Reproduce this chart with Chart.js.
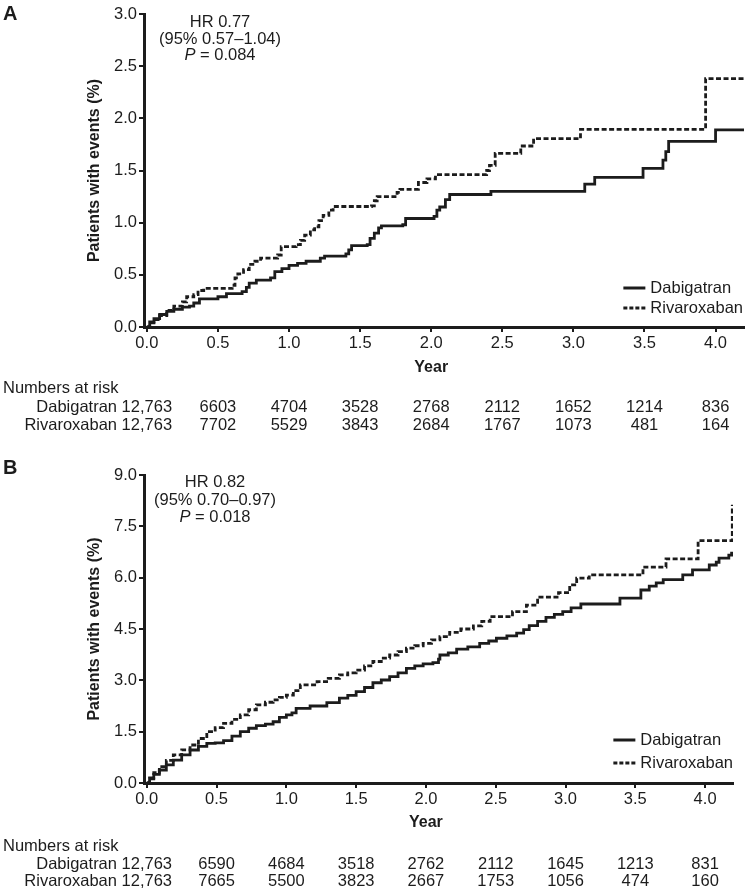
<!DOCTYPE html>
<html lang="en">
<head>
<meta charset="UTF-8">
<title>Dabigatran vs Rivaroxaban</title>
<style>
  body { margin: 0; background: #fff; }
  #wrap { position: relative; width: 748px; height: 892px; }
  canvas { position: absolute; left: 0; }
  #chartA { top: 0; }
  #chartB { top: 440px; }
</style>
</head>
<body>
<div id="wrap">
  <canvas id="chartA" width="748" height="440"></canvas>
  <canvas id="chartB" width="748" height="452"></canvas>
</div>
<script src="https://cdn.jsdelivr.net/npm/chart.js"></script>
<script>
// ---- data ----
const xTicks = [0, 0.5, 1.0, 1.5, 2.0, 2.5, 3.0, 3.5, 4.0];
const yTicksA = [0, 0.5, 1.0, 1.5, 2.0, 2.5, 3.0];
const yTicksB = [0, 1.5, 3.0, 4.5, 6.0, 7.5, 9.0];
const riskYears = [0, 0.5, 1.0, 1.5, 2.0, 2.5, 3.0, 3.5, 4.0];

// panel A: [year, % with events]
const dabA = [[0,0],[0.02,0.05],[0.05,0.08],[0.09,0.12],[0.14,0.15],[0.19,0.17],[0.25,0.19],[0.30,0.20],[0.33,0.23],[0.37,0.27],[0.50,0.29],[0.56,0.32],[0.67,0.34],[0.70,0.38],[0.72,0.42],[0.77,0.45],[0.87,0.47],[0.90,0.53],[0.95,0.56],[1.00,0.59],[1.06,0.61],[1.12,0.63],[1.22,0.66],[1.25,0.68],[1.40,0.70],[1.42,0.74],[1.44,0.78],[1.55,0.79],[1.57,0.85],[1.60,0.90],[1.63,0.95],[1.65,0.97],[1.80,0.98],[1.82,1.04],[2.02,1.06],[2.04,1.12],[2.06,1.15],[2.10,1.22],[2.13,1.27],[2.42,1.30],[3.08,1.37],[3.15,1.435],[3.49,1.52],[3.63,1.60],[3.65,1.68],[3.67,1.78],[4.00,1.89],[4.20,1.89]];
const rivA = [[0,0],[0.02,0.04],[0.05,0.07],[0.09,0.11],[0.14,0.16],[0.19,0.20],[0.25,0.24],[0.28,0.29],[0.33,0.31],[0.36,0.35],[0.40,0.37],[0.60,0.40],[0.62,0.47],[0.64,0.51],[0.68,0.55],[0.72,0.60],[0.76,0.63],[0.80,0.66],[0.92,0.69],[0.945,0.77],[1.05,0.79],[1.08,0.83],[1.11,0.88],[1.15,0.93],[1.18,0.96],[1.21,1.02],[1.24,1.07],[1.28,1.12],[1.31,1.155],[1.58,1.16],[1.60,1.21],[1.62,1.25],[1.76,1.29],[1.78,1.32],[1.91,1.385],[1.97,1.42],[2.03,1.46],[2.39,1.50],[2.41,1.55],[2.45,1.665],[2.63,1.735],[2.72,1.805],[3.05,1.895],[3.93,2.38],[4.20,2.38]];

// panel B
const dabB = [[0,0],[0.02,0.12],[0.05,0.25],[0.09,0.38],[0.14,0.53],[0.19,0.67],[0.25,0.82],[0.31,0.965],[0.37,1.07],[0.43,1.16],[0.49,1.17],[0.55,1.24],[0.61,1.37],[0.67,1.50],[0.73,1.60],[0.785,1.675],[0.85,1.72],[0.905,1.79],[0.95,1.92],[1.00,1.99],[1.04,2.05],[1.07,2.18],[1.17,2.25],[1.29,2.35],[1.38,2.48],[1.44,2.56],[1.50,2.67],[1.56,2.79],[1.62,2.93],[1.68,3.01],[1.74,3.11],[1.80,3.22],[1.86,3.35],[1.92,3.42],[1.98,3.48],[2.05,3.52],[2.09,3.62],[2.10,3.74],[2.16,3.80],[2.22,3.91],[2.30,3.98],[2.385,4.08],[2.45,4.15],[2.505,4.23],[2.58,4.30],[2.65,4.38],[2.70,4.48],[2.74,4.60],[2.80,4.72],[2.86,4.84],[2.92,4.93],[2.98,5.01],[3.04,5.12],[3.11,5.23],[3.39,5.40],[3.54,5.64],[3.60,5.75],[3.65,5.85],[3.70,5.94],[3.84,6.08],[3.91,6.23],[4.03,6.37],[4.08,6.45],[4.10,6.57],[4.17,6.66],[4.19,6.76]];
const rivB = [[0,0],[0.02,0.15],[0.05,0.30],[0.09,0.48],[0.14,0.66],[0.19,0.82],[0.25,0.97],[0.31,1.11],[0.37,1.30],[0.43,1.50],[0.49,1.62],[0.55,1.745],[0.61,1.86],[0.67,1.99],[0.73,2.14],[0.785,2.28],[0.85,2.36],[0.905,2.43],[0.95,2.50],[1.00,2.57],[1.05,2.70],[1.10,2.87],[1.22,2.96],[1.30,3.06],[1.38,3.16],[1.44,3.22],[1.50,3.30],[1.56,3.42],[1.62,3.55],[1.68,3.65],[1.74,3.74],[1.80,3.84],[1.86,3.94],[1.92,4.01],[1.98,4.08],[2.04,4.18],[2.10,4.28],[2.17,4.40],[2.25,4.50],[2.34,4.59],[2.40,4.72],[2.46,4.86],[2.62,5.01],[2.72,5.20],[2.80,5.43],[2.95,5.56],[3.03,5.79],[3.08,5.985],[3.17,6.08],[3.555,6.31],[3.72,6.55],[3.95,7.08],[4.195,8.13]];

// numbers at risk
const riskDabA = [12763, 6603, 4704, 3528, 2768, 2112, 1652, 1214, 836];
const riskRivA = [12763, 7702, 5529, 3843, 2684, 1767, 1073, 481, 164];
const riskDabB = [12763, 6590, 4684, 3518, 2762, 2112, 1645, 1213, 831];
const riskRivB = [12763, 7665, 5500, 3823, 2667, 1753, 1056, 474, 160];

// ---- styling ----
const ink = '#1c1c1c';
const family = '"Liberation Sans", Arial, sans-serif';
const fs = 16.5;

function fmt(n) {
    return n >= 10000 ? n.toLocaleString('en-US') : String(n);
}

// draws panel letter, HR text, legend, "Year" and numbers-at-risk table
const kmExtras = {
    id: 'kmExtras',
    afterDraw(chart, args, o) {
        const ctx = chart.ctx;
        const area = chart.chartArea;
        const xs = chart.scales.x;
        ctx.save();
        ctx.fillStyle = ink;
        ctx.textBaseline = 'middle';

        ctx.font = 'bold 20px ' + family;
        ctx.textAlign = 'left';
        ctx.fillText(o.letter, 3, o.letterY);

        // hazard ratio block
        ctx.font = fs + 'px ' + family;
        ctx.textAlign = 'center';
        const cx = area.left + o.hrDx;
        ctx.fillText(o.hr[0], cx, area.top + o.hrDy[0]);
        ctx.fillText(o.hr[1], cx, area.top + o.hrDy[1]);
        const rest = ' = ' + o.p;
        ctx.font = 'italic ' + fs + 'px ' + family;
        const wP = ctx.measureText('P').width;
        ctx.font = fs + 'px ' + family;
        const wR = ctx.measureText(rest).width;
        const sx = cx - (wP + wR) / 2;
        ctx.textAlign = 'left';
        ctx.font = 'italic ' + fs + 'px ' + family;
        ctx.fillText('P', sx, area.top + o.hrDy[2]);
        ctx.font = fs + 'px ' + family;
        ctx.fillText(rest, sx + wP, area.top + o.hrDy[2]);

        // legend
        const names = ['Dabigatran', 'Rivaroxaban'];
        const tx = area.right - o.legendRight - ctx.measureText('Rivaroxaban').width;
        names.forEach((name, i) => {
            const y = area.bottom - o.legendDy[i];
            ctx.fillText(name, tx, y);
            ctx.beginPath();
            ctx.strokeStyle = ink;
            ctx.lineWidth = 3;
            ctx.setLineDash(i === 0 ? [] : [4, 2]);
            ctx.moveTo(tx - 27, y);
            ctx.lineTo(tx - 5, y);
            ctx.stroke();
        });
        ctx.setLineDash([]);

        // x title
        ctx.font = 'bold 16px ' + family;
        ctx.textAlign = 'center';
        ctx.fillText('Year', xs.getPixelForValue(2), area.bottom + o.yearDy);

        // numbers at risk
        ctx.font = fs + 'px ' + family;
        ctx.textAlign = 'left';
        ctx.fillText('Numbers at risk', 3, area.bottom + o.riskDy[0]);
        const spaceW = ctx.measureText(' ').width;
        o.risk.forEach((row, r) => {
            const y = area.bottom + o.riskDy[r + 1];
            ctx.textAlign = 'center';
            row.values.forEach((v, i) => ctx.fillText(fmt(v), xs.getPixelForValue(riskYears[i]), y));
            const firstW = ctx.measureText(fmt(row.values[0])).width;
            ctx.textAlign = 'right';
            ctx.fillText(row.name, xs.getPixelForValue(riskYears[0]) - firstW / 2 - spaceW, y);
        });
        ctx.restore();
    }
};

function makeChart(id, dab, riv, yTicks, pad, extra) {
    const toPts = arr => arr.map(p => ({ x: p[0], y: p[1] }));
    const axisGrid = { drawOnChartArea: false, drawTicks: true, tickLength: 5, tickWidth: 2, tickColor: ink, color: ink, lineWidth: 2 };
    return new Chart(document.getElementById(id), {
        type: 'line',
        data: {
            datasets: [
                { label: 'Dabigatran', data: toPts(dab), borderColor: ink, borderWidth: 2.8, stepped: true, pointRadius: 0, fill: false },
                { label: 'Rivaroxaban', data: toPts(riv), borderColor: ink, borderWidth: 2.8, borderDash: [5, 2.5], stepped: true, pointRadius: 0, fill: false }
            ]
        },
        options: {
            responsive: false,
            animation: false,
            layout: { padding: pad },
            scales: {
                x: {
                    type: 'linear',
                    min: -0.02,
                    max: 4.2,
                    afterBuildTicks: s => { s.ticks = xTicks.map(v => ({ value: v })); },
                    afterFit: s => { s.height = 60; },
                    ticks: { color: ink, padding: 2, font: { family: family, size: fs }, callback: v => v.toFixed(1), maxRotation: 0 },
                    grid: axisGrid,
                    border: { display: true, color: ink, width: 3 }
                },
                y: {
                    min: 0,
                    max: yTicks[yTicks.length - 1],
                    afterBuildTicks: s => { s.ticks = yTicks.map(v => ({ value: v })); },
                    afterFit: s => { s.width = 144; },
                    ticks: { color: ink, padding: 2, font: { family: family, size: fs }, callback: v => v.toFixed(1) },
                    grid: axisGrid,
                    border: { display: true, color: ink, width: 3 },
                    title: { display: true, text: 'Patients with events (%)', color: ink, padding: { top: 85, bottom: 0 }, font: { family: family, size: 16, weight: 'bold' } }
                }
            },
            plugins: {
                legend: { display: false },
                tooltip: { enabled: false },
                kmExtras: extra
            }
        },
        plugins: [kmExtras]
    });
}

makeChart('chartA', dabA, rivA, yTicksA, { top: 14, right: 4, bottom: 53, left: 0 }, {
    letter: 'A', letterY: 14,
    hr: ['HR 0.77', '(95% 0.57\u20131.04)'], p: '0.084', hrDx: 76, hrDy: [8, 25, 41],
    legendRight: 1, legendDy: [39, 19],
    yearDy: 41,
    riskDy: [61, 80, 98],
    risk: [{ name: 'Dabigatran', values: riskDabA }, { name: 'Rivaroxaban', values: riskRivA }]
});

makeChart('chartB', dabB, rivB, yTicksB, { top: 35, right: 15, bottom: 49, left: 0 }, {
    letter: 'B', letterY: 28,
    hr: ['HR 0.82', '(95% 0.70\u20130.97)'], p: '0.018', hrDx: 71, hrDy: [7, 25, 42],
    legendRight: 0, legendDy: [43, 20],
    yearDy: 40,
    riskDy: [63, 81, 98],
    risk: [{ name: 'Dabigatran', values: riskDabB }, { name: 'Rivaroxaban', values: riskRivB }]
});
</script>
</body>
</html>
